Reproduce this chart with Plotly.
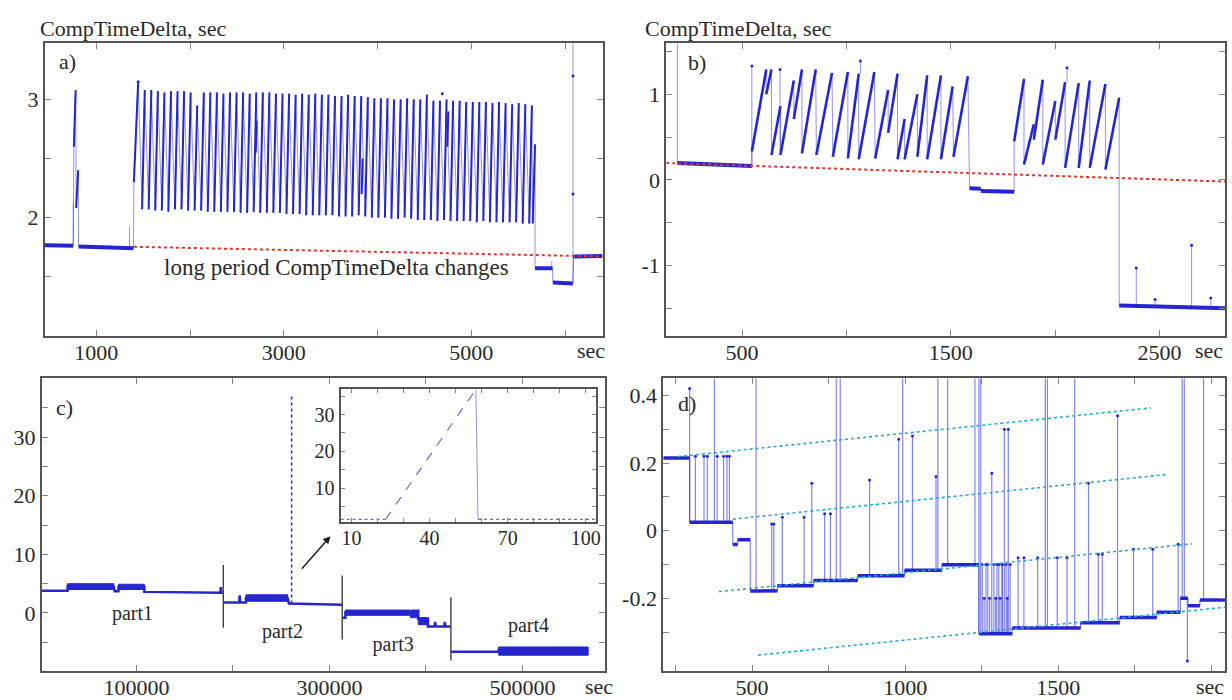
import plotly.graph_objects as go

# ---------------- DATA ----------------
# Panel a
a_flat_x0 = [450, 810, 5680, 5870, 6092]
a_flat_x1 = [752, 1396, 5866, 6082, 6400]
a_flat_y0 = [1.765, 1.755, 1.57, 1.45, 1.67]
a_flat_y1 = [1.760, 1.740, 1.57, 1.44, 1.675]
a_tooth_top_x = [1446, 1516, 1586, 1656, 1726, 1796, 1866, 1936, 2006, 2076,
                 2146, 2216, 2286, 2356, 2426, 2496, 2566, 2636, 2706, 2776,
                 2846, 2916, 2986, 3056, 3126, 3196, 3266, 3336, 3406, 3476,
                 3546, 3616, 3686, 3756, 3826, 3896, 3966, 4036, 4106, 4176,
                 4246, 4316, 4386, 4456, 4526, 4596, 4666, 4736, 4806, 4876,
                 4946, 5016, 5086, 5156, 5226, 5296, 5366, 5436, 5506, 5576,
                 5646]
a_tooth_bot_x = [1400, 1488, 1558, 1628, 1698, 1768, 1838, 1908, 1978, 2048,
                 2118, 2188, 2258, 2328, 2398, 2468, 2538, 2608, 2678, 2748,
                 2818, 2888, 2958, 3028, 3098, 3168, 3238, 3308, 3378, 3448,
                 3518, 3588, 3658, 3728, 3798, 3868, 3938, 4008, 4078, 4148,
                 4218, 4288, 4358, 4428, 4498, 4568, 4638, 4708, 4778, 4848,
                 4918, 4988, 5058, 5128, 5198, 5268, 5338, 5408, 5478, 5548,
                 5618]
a_tooth_top_y = [3.15, 3.08, 3.08, 3.07, 3.06, 3.07, 3.07, 3.07, 3.06, 2.95,
                 3.06, 3.06, 3.06, 3.05, 3.06, 3.06, 3.06, 3.05, 3.06, 3.06,
                 3.06, 3.05, 3.05, 3.05, 3.04, 3.05, 3.04, 3.05, 3.04, 3.04,
                 3.03, 3.03, 3.04, 3.03, 3.03, 3.02, 3.01, 3.01, 3.01, 3.00,
                 3.00, 3.01, 3.00, 3.00, 3.04, 2.99, 2.99, 3.00, 2.99, 2.99,
                 2.98, 2.98, 2.98, 2.98, 2.97, 2.98, 2.97, 2.96, 2.97, 2.96,
                 2.95]
a_tooth_bot_y = [2.30, 2.07, 2.07, 2.06, 2.06, 2.05, 2.07, 2.07, 2.06, 2.06,
                 2.06, 2.05, 2.05, 2.05, 2.05, 2.05, 2.04, 2.04, 2.05, 2.04,
                 2.04, 2.04, 2.04, 2.03, 2.03, 2.03, 2.02, 2.02, 2.02, 2.02,
                 2.02, 2.01, 2.01, 2.01, 2.02, 2.01, 2.00, 2.00, 2.00, 1.99,
                 1.99, 2.00, 1.99, 1.98, 1.98, 1.98, 1.97, 1.98, 1.97, 1.97,
                 1.97, 1.97, 1.96, 1.97, 1.96, 1.96, 1.96, 1.96, 1.96, 1.95,
                 1.95]
a_extra_x0 = [760, 784, 2700, 3830, 4745, 5655]
a_extra_y0 = [2.60, 2.08, 2.55, 2.20, 2.60, 1.95]
a_extra_x1 = [779, 806, 2710, 3840, 4755, 5680]
a_extra_y1 = [3.08, 2.40, 2.82, 2.50, 2.90, 2.62]
a_burst_x = [755, 760, 779, 784, 806]
a_burst_y = [2.13, 2.60, 3.08, 2.08, 2.40]
a_spike_x = [755, 1354, 5858, 6085]
a_spike_base = [1.76, 1.745, 1.57, 1.44]
a_spike_top = [2.13, 1.92, 1.63, 3.6]
a_dot_x = [6085, 6085, 1446, 4690]
a_dot_y = [2.2, 3.2, 3.15, 3.05]
a_trend_x = [1400, 6400]
a_trend_y = [1.752, 1.670]

# Panel b
b_flat_x0 = [190, 1590, 1644, 2307]
b_flat_x1 = [547, 1644, 1804, 2814]
b_flat_y0 = [0.196, -0.098, -0.130, -1.470]
b_flat_y1 = [0.162, -0.105, -0.140, -1.500]
b_tooth_x0 = [547, 616, 641, 684, 748, 787, 856, 935, 1007, 1059, 1138, 1200, 1245,
              1279, 1340, 1387, 1453, 1513, 1804, 1851, 1898, 1941, 2001, 2048, 2113,
              2166, 2241]
b_tooth_y0 = [0.33, 1.00, 0.29, 0.29, 0.71, 0.31, 0.29, 0.27, 0.25, 0.24, 0.25, 0.55, 0.24,
              0.24, 0.27, 0.24, 0.24, 0.27, 0.45, 0.18, 0.47, 0.18, 0.47, 0.14, 0.14,
              0.14, 0.12]
b_tooth_x1 = [616, 641, 684, 748, 787, 853, 931, 1007, 1059, 1134, 1200, 1245, 1279,
              1340, 1387, 1453, 1509, 1582, 1851, 1898, 1941, 2001, 2048, 2113, 2166,
              2241, 2307]
b_tooth_y1 = [1.29, 1.29, 0.86, 1.16, 1.29, 1.29, 1.25, 1.26, 1.24, 1.26, 1.05, 1.24, 0.71,
              1.00, 1.22, 1.22, 1.09, 1.21, 1.18, 0.65, 1.17, 0.92, 1.14, 1.13, 1.16,
              1.12, 0.96]
b_spike_x = [190, 547, 682, 1067, 2057, 2389, 2479, 2654, 2746]
b_spike_base = [0.196, 0.162, 0.29, 1.24, 1.14, -1.475, -1.48, -1.49, -1.495]
b_spike_top = [1.9, 1.33, 1.29, 1.39, 1.31, -1.03, -1.40, -0.765, -1.38]
b_trend_x = [137, 2814]
b_trend_y = [0.196, -0.020]

# Panel c
c_line_x = [2000, 28700, 28700, 76500, 77500, 81400, 81400, 108200, 108200, 187000, 187500, 188000, 189500]
c_line_y = [3.8, 3.8, 4.5, 4.5, 3.7, 3.7, 4.4, 4.4, 3.6, 3.45, 4.4, 3.45, 3.4]
c2_line_x = [190500, 206500, 207000, 207500, 213400, 213400, 256700, 258000, 313000]
c2_line_y = [1.8, 1.8, 3.0, 1.8, 1.8, 2.5, 2.5, 1.6, 1.4]
c3_line_x = [313500, 316500, 316500, 383300, 386000, 392000, 392000, 402000, 402000, 409000, 409500, 410000, 419000, 419500, 420000, 425500]
c3_line_y = [-0.8, -0.8, 0.1, 0.1, 0.4, 0.4, -1.0, -1.0, -2.3, -2.3, -1.5, -2.3, -2.3, -1.5, -2.3, -2.3]
c4_line_x = [426000, 475300, 475300, 568000]
c4_line_y = [-6.6, -6.6, -6.3, -6.5]
c_band_x0 = [28700, 81400, 213400, 316500, 384000, 392000, 475300]
c_band_x1 = [76500, 108200, 256700, 383300, 392000, 402000, 568000]
c_band_lo = [4.0, 4.0, 2.0, -0.4, -0.8, -2.0, -7.2]
c_band_hi = [5.0, 4.9, 3.1, 0.5, 0.4, -0.8, -5.8]
c_sep_x = [190000, 313200, 425800]
c_sep_lo = [-2.5, -4.5, -8.1]
c_sep_hi = [8.2, 6.4, 2.7]
c_peak_x = [260800, 260800]
c_peak_y = [1.6, 37.0]
c_part_labels = ["part1", "part2", "part3", "part4"]
c_part_x = [95900, 251300, 366000, 506200]
c_part_y = [-0.3, -3.4, -5.6, -2.4]
# inset
ins_x = [5.8, 23.1, 57.8, 58.6, 103.8]
ins_y = [1.6, 1.6, 36.8, 1.6, 1.6]

# Panel d
d_lvl_x0 = [210, 296, 437, 453, 494, 583, 701, 845, 998, 1120, 1241, 1350, 1573, 1701, 1822, 1899, 1924, 1963]
d_lvl_x1 = [296, 437, 453, 494, 583, 701, 845, 998, 1120, 1241, 1350, 1573, 1701, 1822, 1899, 1924, 1963, 2049]
d_lvl_y = [0.215, 0.025, -0.041, -0.027, -0.178, -0.163, -0.147, -0.133, -0.117, -0.101,
           -0.305, -0.288, -0.272, -0.257, -0.241, -0.200, -0.222, -0.205]
d_spike_x = [296, 315, 343, 354, 377, 386, 407, 418, 426, 513, 564, 571, 599, 670, 695,
             737, 756, 775, 788, 884, 979, 992, 1024, 1101, 1107, 1139, 1228, 1241, 1247,
             1252, 1258, 1264, 1270, 1276, 1283, 1290, 1296, 1300, 1306, 1310, 1316, 1318,
             1324, 1330, 1334, 1337, 1343,
             1369, 1388, 1433, 1458, 1465, 1497, 1529, 1554, 1599, 1631, 1644, 1694,
             1746, 1809, 1892, 1905, 1912, 1922, 1975]
d_spike_top = [0.42, 0.22, 0.22, 0.22, 0.6, 0.22, 0.22, 0.22, 0.22, 0.6, 0.02, 0.02, 0.04, 0.04, 0.14,
               0.05, 0.05, 0.6, 0.6, 0.15, 0.27, 0.6, 0.28, 0.16, 0.6, 0.6, 0.6, 0.6, 0.6,
               -0.1, -0.2, -0.1, -0.1, -0.2, 0.17, -0.1, -0.2, -0.1, -0.1, -0.2, -0.1, -0.1,
               0.30, -0.1, -0.2, 0.30, -0.1,
               -0.08, -0.08, -0.08, 0.6, 0.6, -0.08, -0.08, 0.6, 0.14, -0.07, -0.07, 0.34,
               -0.055, -0.055, -0.04, 0.6, 0.6, -0.385, 0.6]
d_trend_x0 = [258, 437, 392, 520]
d_trend_y0 = [0.219, 0.034, -0.180, -0.368]
d_trend_x1 = [1803, 1854, 1937, 2049]
d_trend_y1 = [0.363, 0.166, -0.039, -0.226]

# ---------------- STYLE ----------------
BLUE = "rgb(38,38,208)"
THIN = "rgba(60,60,215,0.55)"
RED = "rgb(215,60,50)"
CYAN = "rgb(40,170,200)"
FRAME = "#555555"
FONT = "Liberation Serif"
TXT = "#2a2a2a"
TICKFS = 22


def segs(x0, y0, x1, y1):
    xs, ys = [], []
    for a, b, c, d in zip(x0, y0, x1, y1):
        xs += [a, c, None]
        ys += [b, d, None]
    return xs, ys


fig = go.Figure()


def add(x, y, ax, color=BLUE, width=2, dash=None, mode="lines", msize=3):
    fig.add_trace(go.Scatter(x=x, y=y, mode=mode, xaxis="x" + ax, yaxis="y" + ax,
                             line=dict(color=color, width=width, dash=dash),
                             marker=dict(size=msize, color=color),
                             hoverinfo="skip", showlegend=False))

# ---- panel a ----
path_x, path_y = [a_flat_x0[0], a_flat_x1[0]], [a_flat_y0[0], a_flat_y1[0]]
path_x += a_burst_x + [a_flat_x0[1], a_flat_x1[1]]
path_y += a_burst_y + [a_flat_y0[1], a_flat_y1[1]]
for bx, by, tx, ty in zip(a_tooth_bot_x, a_tooth_bot_y, a_tooth_top_x, a_tooth_top_y):
    path_x += [bx, tx]
    path_y += [by, ty]
path_x += [a_extra_x0[-1], a_extra_x1[-1]]
path_y += [a_extra_y0[-1], a_extra_y1[-1]]
for i in range(2, 5):
    path_x += [a_flat_x0[i], a_flat_x1[i]]
    path_y += [a_flat_y0[i], a_flat_y1[i]]
add(path_x, path_y, "", THIN, 1)
sx, sy = segs(a_spike_x, a_spike_base, a_spike_x, a_spike_top)
add(sx, sy, "", THIN, 1)
add(a_dot_x, a_dot_y, "", BLUE, 1, mode="markers", msize=3)
tx_, ty_ = segs(a_tooth_bot_x, a_tooth_bot_y, a_tooth_top_x, a_tooth_top_y)
add(tx_, ty_, "", BLUE, 2)
ex, ey = segs(a_extra_x0, a_extra_y0, a_extra_x1, a_extra_y1)
add(ex, ey, "", BLUE, 2)
fx, fy = segs(a_flat_x0, a_flat_y0, a_flat_x1, a_flat_y1)
add(fx, fy, "", BLUE, 4)
add(a_trend_x, a_trend_y, "", RED, 2, dash="dot")

# ---- panel b ----
bpx, bpy = [b_flat_x0[0], b_flat_x1[0]], [b_flat_y0[0], b_flat_y1[0]]
for x0, y0, x1, y1 in zip(b_tooth_x0, b_tooth_y0, b_tooth_x1, b_tooth_y1):
    if x0 > 1700 and bpx[-1] < 1700:
        for i in (1, 2):
            bpx += [b_flat_x0[i], b_flat_x1[i]]
            bpy += [b_flat_y0[i], b_flat_y1[i]]
    bpx += [x0, x1]
    bpy += [y0, y1]
bpx += [b_flat_x0[3], b_flat_x1[3]]
bpy += [b_flat_y0[3], b_flat_y1[3]]
add(bpx, bpy, "2", THIN, 1)
sx, sy = segs(b_spike_x, b_spike_base, b_spike_x, b_spike_top)
add(sx, sy, "2", THIN, 1)
add(b_spike_x[1:], b_spike_top[1:], "2", BLUE, 1, mode="markers", msize=3)
tx_, ty_ = segs(b_tooth_x0, b_tooth_y0, b_tooth_x1, b_tooth_y1)
add(tx_, ty_, "2", BLUE, 2.6)
fx, fy = segs(b_flat_x0, b_flat_y0, b_flat_x1, b_flat_y1)
add(fx, fy, "2", BLUE, 4)
add(b_trend_x, b_trend_y, "2", RED, 2, dash="dot")

# ---- panel c ----
for lx, ly in [(c_line_x, c_line_y), (c2_line_x, c2_line_y), (c3_line_x, c3_line_y), (c4_line_x, c4_line_y)]:
    add(lx, ly, "3", BLUE, 2.5)
for x0, x1, lo, hi in zip(c_band_x0, c_band_x1, c_band_lo, c_band_hi):
    fig.add_trace(go.Scatter(x=[x0, x1, x1, x0, x0], y=[lo, lo, hi, hi, lo], xaxis="x3", yaxis="y3",
                             mode="lines", fill="toself", fillcolor=BLUE,
                             line=dict(color=BLUE, width=1), hoverinfo="skip", showlegend=False))
add(c_peak_x, c_peak_y, "3", BLUE, 1.5, dash="dot")
sx, sy = segs(c_sep_x, c_sep_lo, c_sep_x, c_sep_hi)
add(sx, sy, "3", "#333333", 1.3)
fig.add_trace(go.Scatter(x=c_part_x, y=c_part_y, mode="text", text=c_part_labels,
                         textfont=dict(family=FONT, size=20, color=TXT),
                         xaxis="x3", yaxis="y3", hoverinfo="skip", showlegend=False))
# inset
add(ins_x[:2], ins_y[:2], "5", "rgb(110,110,190)", 1.2, dash="dot")
add(ins_x[1:3], ins_y[1:3], "5", "rgb(110,110,190)", 1.2, dash="dash")
add(ins_x[2:4], ins_y[2:4], "5", "rgb(150,150,210)", 1)
add(ins_x[3:], ins_y[3:], "5", "rgb(110,110,190)", 1.2, dash="dot")

# ---- panel d ----
bases = []
for x in d_spike_x:
    b = d_lvl_y[-1]
    for x0, x1, y in zip(d_lvl_x0, d_lvl_x1, d_lvl_y):
        if x0 <= x < x1:
            b = y
            break
    bases.append(b)
sx, sy = segs(d_spike_x, bases, d_spike_x, d_spike_top)
add(sx, sy, "4", "rgba(50,50,215,0.6)", 1.2)
add([x for x, t in zip(d_spike_x, d_spike_top) if t < 0.45],
    [t for t in d_spike_top if t < 0.45], "4", BLUE, 1, mode="markers", msize=3)
spx, spy = [], []
for x0, x1, y in zip(d_lvl_x0, d_lvl_x1, d_lvl_y):
    spx += [x0, x1]
    spy += [y, y]
add(spx, spy, "4", "rgba(50,50,215,0.7)", 1)
fx, fy = segs(d_lvl_x0, d_lvl_y, d_lvl_x1, d_lvl_y)
add(fx, fy, "4", BLUE, 3.5)
tx_, ty_ = segs(d_trend_x0, d_trend_y0, d_trend_x1, d_trend_y1)
add(tx_, ty_, "4", CYAN, 1.6, dash="dot")

# ---------------- LAYOUT ----------------

def axis(domain, rng, vals, texts, anchor, size=TICKFS, ticklen=6, standoff=None):
    d = dict(domain=domain, range=rng, tickvals=vals, ticktext=texts, anchor=anchor,
             showline=True, linecolor=FRAME, linewidth=2, mirror="ticks",
             ticks="inside", ticklen=ticklen, tickcolor="#888888", tickwidth=1,
             showgrid=False, zeroline=False,
             tickfont=dict(family=FONT, size=size, color=TXT))
    if standoff is not None:
        d["ticklabelstandoff"] = standoff
    return d

W, H = 1232, 700
def px(a, b):
    return [a / W, b / W]
def py(top, bot):
    return [1 - bot / H, 1 - top / H]

TOP1, BOT1 = 43, 336
TOP2, BOT2 = 379, 672

fig.update_layout(
    width=W, height=H, margin=dict(l=0, r=0, t=0, b=0),
    paper_bgcolor="white", plot_bgcolor="white",
    xaxis=axis(px(45, 605), [450, 6400], [1000, 2000, 3000, 4000, 5000, 6000],
               ["1000", "", "3000", "", "5000", ""], "y", standoff=-4),
    yaxis=axis(py(TOP1, BOT1), [1.0, 3.48], [1.5, 2, 2.5, 3], ["", "2", "", "3"], "x"),
    xaxis2=axis(px(669, 1230), [137, 2814], [500, 1000, 1500, 2000, 2500],
                ["500", "", "1500", "", "2500"], "y2", standoff=-4),
    yaxis2=axis(py(TOP1, BOT1), [-1.82, 1.60], [-1.5, -1, -0.5, 0, 0.5, 1, 1.5],
                ["", "-1", "", "0", "", "1", ""], "x2"),
    xaxis3=axis(px(42, 607), [2000, 585000], [100000, 200000, 300000, 400000, 500000],
                ["100000", "", "300000", "", "500000"], "y3", standoff=-4),
    yaxis3=axis(py(TOP2, BOT2), [-9.9, 40], [-5, 0, 5, 10, 15, 20, 25, 30, 35],
                ["", "0", "", "10", "", "20", "", "30", ""], "x3"),
    xaxis4=axis(px(666, 1230), [210, 2045], [250, 500, 750, 1000, 1250, 1500, 1750, 2000],
                ["", "500", "", "1000", "", "1500", "", ""], "y4", standoff=-4),
    yaxis4=axis(py(TOP2, BOT2), [-0.415, 0.45], [-0.3, -0.2, -0.1, 0, 0.1, 0.2, 0.3, 0.4],
                ["", "-0.2", "", "0", "", "0.2", "", "0.4"], "x4"),
    xaxis5=axis(px(342, 598), [5.8, 103.8], [10, 20, 30, 40, 50, 60, 70, 80, 90, 100],
                ["10", "", "", "40", "", "", "70", "", "", "100"], "y5", size=20, ticklen=4, standoff=-3),
    yaxis5=axis(py(390, 523), [0.8, 36.8], [5, 10, 15, 20, 25, 30, 35],
                ["", "10", "", "20", "", "30", ""], "x5", size=20, ticklen=4),
)

ann = []
def text(x, y, s, xref="paper", yref="paper", size=22, xanchor="left", yanchor="middle"):
    ann.append(dict(x=x, y=y, xref=xref, yref=yref, text=s, showarrow=False,
                    xanchor=xanchor, yanchor=yanchor,
                    font=dict(family=FONT, size=size, color=TXT)))

h1 = BOT1 - TOP1
h2 = BOT2 - TOP2
text(38 / W, 1 - 29 / H, "CompTimeDelta, sec", size=22)
text(646 / W, 1 - 29 / H, "CompTimeDelta, sec", size=22)
text(0.022, 0.935, "a)", "x domain", "y domain")
text(0.035, 0.932, "b)", "x2 domain", "y2 domain")
text(0.022, 0.90, "c)", "x3 domain", "y3 domain")
text(0.023, 0.913, "d)", "x4 domain", "y4 domain")
text(3560, 1.58, "long period CompTimeDelta changes", "x", "y", xanchor="center", size=23)
text(6280, -15 / h1, "sec", "x", "y domain", xanchor="center")
text(2735, -15 / h1, "sec", "x2", "y2 domain", xanchor="center")
text(579000, -15 / h2, "sec", "x3", "y3 domain", xanchor="center")
text(1995, -15 / h2, "sec", "x4", "y4 domain", xanchor="center")
ann.append(dict(x=301000, y=13.1, ax=270000, ay=7.3, xref="x3", yref="y3", axref="x3", ayref="y3",
                showarrow=True, arrowhead=2, arrowsize=1, arrowwidth=1.5, arrowcolor="#222", text=""))
fig.update_layout(annotations=ann)

fig.write_html("out.html", config={"displayModeBar": False},
               post_script="document.body.style.margin='0';document.body.style.overflow='hidden';")
